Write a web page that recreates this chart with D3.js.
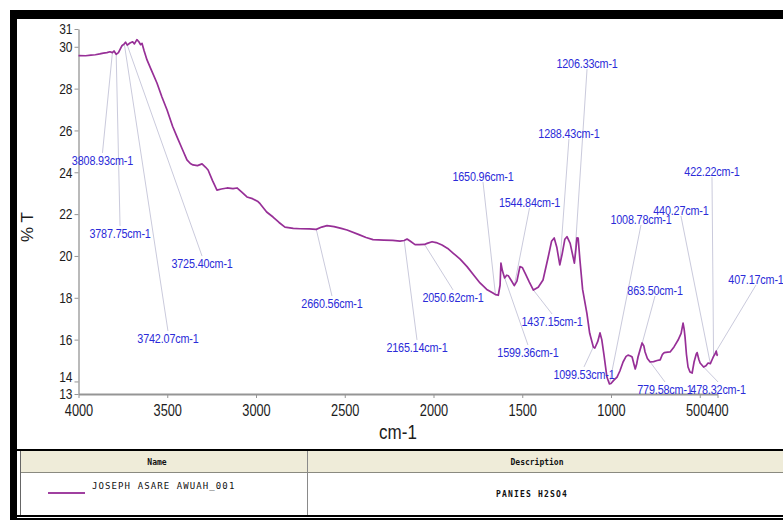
<!DOCTYPE html>
<html>
<head>
<meta charset="utf-8">
<script src="https://cdn.jsdelivr.net/npm/d3@7/dist/d3.min.js"></script>
<style>
  html, body { margin: 0; padding: 0; background: #fff; }
  svg { display: block; }
</style>
</head>
<body>
<svg id="chart" width="783" height="520"></svg>
<script>
// IR spectrum of sample JOSEPH ASARE AWUAH_001 (%T vs wavenumber)
const wavenumbers = [
  4000, 3960, 3930, 3905, 3880, 3860, 3840, 3823, 3808.93, 3800,
  3787.75, 3775, 3755, 3742.07, 3735, 3725.40, 3710, 3695, 3685, 3671,
  3660, 3650, 3642, 3630, 3614, 3590, 3558, 3530, 3501, 3470,
  3445, 3415, 3389, 3370, 3355, 3330, 3304, 3285, 3270, 3245,
  3220, 3195, 3163, 3130, 3107, 3080, 3051, 3020, 2989, 2977,
  2940, 2904, 2870, 2837, 2790, 2752, 2700, 2660.56, 2630, 2600,
  2560, 2520, 2487, 2420, 2380, 2341, 2280, 2230, 2189, 2165.14,
  2149, 2130, 2104, 2080, 2050.62, 2036, 2008, 1985, 1952, 1920,
  1890, 1850, 1811, 1775, 1738, 1700, 1665, 1650.96, 1635, 1625,
  1620, 1612, 1599.36, 1588, 1578, 1560, 1544.84, 1530, 1513, 1500,
  1484, 1460, 1437.15, 1410, 1383, 1355, 1335, 1320, 1305, 1288.43,
  1275, 1260, 1248, 1230, 1206.33, 1198, 1192, 1185, 1175, 1160,
  1136, 1120, 1099.53, 1091, 1075, 1062, 1052, 1040, 1023, 1008.78,
  1000, 985, 966, 950, 932, 915, 904, 890, 881, 870,
  863.50, 855, 848, 835, 825, 815, 808, 795, 779.58, 760,
  740, 723, 710, 700, 680, 667, 645, 622, 605, 594,
  588, 583, 575, 566, 555, 543, 532, 520, 515, 505,
  498, 478.32, 465, 453, 440.27, 430, 422.22, 414, 407.17, 402, 400
];
const transmittance = [
  29.58, 29.57, 29.60, 29.62, 29.66, 29.70, 29.72, 29.76, 29.72, 29.80,
  29.64, 29.72, 30.05, 30.14, 30.22, 30.08, 30.18, 30.24, 30.14, 30.34,
  30.24, 30.10, 30.16, 29.80, 29.37, 28.90, 28.27, 27.60, 26.98, 26.20,
  25.69, 25.10, 24.59, 24.42, 24.35, 24.32, 24.40, 24.25, 24.11, 23.60,
  23.15, 23.20, 23.25, 23.22, 23.25, 23.05, 22.82, 22.74, 22.60, 22.50,
  22.10, 21.86, 21.60, 21.38, 21.32, 21.30, 21.29, 21.27, 21.38, 21.45,
  21.40, 21.32, 21.24, 21.02, 20.88, 20.78, 20.76, 20.74, 20.71, 20.74,
  20.81, 20.70, 20.54, 20.54, 20.55, 20.60, 20.68, 20.64, 20.52, 20.36,
  20.14, 19.85, 19.49, 19.10, 18.71, 18.40, 18.23, 18.15, 18.12, 18.60,
  19.66, 19.30, 18.95, 19.08, 19.05, 18.80, 18.58, 18.80, 19.49, 19.45,
  19.18, 18.75, 18.37, 18.50, 18.85, 19.90, 20.70, 20.86, 20.40, 19.57,
  20.10, 20.80, 20.92, 20.60, 19.66, 20.30, 20.86, 20.85, 19.80, 18.40,
  17.27, 16.30, 15.65, 15.60, 15.90, 16.32, 16.00, 15.30, 14.21, 13.88,
  13.90, 14.05, 14.21, 14.50, 14.93, 15.20, 15.26, 15.22, 15.17, 14.80,
  14.60, 14.85, 15.17, 15.55, 15.84, 15.70, 15.41, 15.10, 14.93, 14.95,
  15.00, 15.03, 15.30, 15.38, 15.40, 15.41, 15.65, 15.98, 16.30, 16.79,
  16.50, 16.13, 15.30, 14.69, 14.45, 14.40, 14.93, 15.30, 15.38, 15.05,
  14.88, 14.69, 14.75, 14.88, 14.85, 15.05, 15.20, 15.31, 15.45, 15.25, 15.30
];

// Picked peaks and where each annotation sits (wavenumber, %T)
const peakWavenumbers = [3808.93, 3787.75, 3742.07, 3725.40, 2660.56, 2165.14, 2050.62,
  1650.96, 1544.84, 1288.43, 1206.33, 1437.15, 1599.36, 1099.53, 1008.78, 863.50,
  779.58, 478.32, 440.27, 422.22, 407.17];
const peakLabelWn = [3865, 3766, 3496, 3304, 2572, 2093, 1890,
  1721, 1459, 1237, 1135, 1332, 1468, 1152, 831, 752,
  696, 397, 606, 431, 183];
const peakLabelT = [24.59, 21.10, 16.08, 19.66, 17.75, 15.65, 18.04,
  23.82, 22.58, 25.88, 29.22, 16.89, 15.41, 14.36, 21.77, 18.37,
  13.64, 13.64, 22.2, 24.06, 18.9];

// Axes
const xDomain = [4000, 400];
const xTickValues = [4000, 3500, 3000, 2500, 2000, 1500, 1000, 500, 400];
const xTickLabels = ["4000", "3500", "3000", "2500", "2000", "1500", "1000", "500", "400"];
const yDomain = [13.4, 30.85];
const yTickValues = [13.4, 14, 16, 18, 20, 22, 24, 26, 28, 30, 30.85];
const yTickLabels = ["13", "14", "16", "18", "20", "22", "24", "26", "28", "30", "31"];
const xTitle = "cm-1";
const yTitle = "% T";

// Legend table
const tableHeaders = ["Name", "Description"];
const sampleName = "JOSEPH ASARE AWUAH_001";
const sampleDescription = "PANIES H2SO4";

const SANS = "'Liberation Sans',Arial,sans-serif";
const MONO = "'DejaVu Sans Mono','Liberation Mono',monospace";
const NARROW_K = 0.8;           // horizontal squeeze giving a narrow face
const LINE_COLOR = "#972f97";
const LABEL_COLOR = "#2b2bd8";
const LEADER_COLOR = "#cacadc";
const AXIS_COLOR = "#959595";

// squeeze text horizontally around its own x position
function condense(sel, k = NARROW_K) {
  sel.each(function () {
    const t = d3.select(this);
    const x0 = +t.attr("x") || 0;
    t.attr("x", 0).attr("transform", `translate(${x0},0) scale(${k},1)`);
  });
}

const svg = d3.select("#chart");
svg.append("rect").attr("width", 783).attr("height", 520).attr("fill", "#fff");

const x = d3.scaleLinear().domain(xDomain).range([78.5, 717.5]);
const y = d3.scaleLinear().domain(yDomain).range([394, 29]);
const spectrumAt = d3.scaleLinear().domain(wavenumbers).range(transmittance);

// Outer frame
svg.append("rect").attr("x", 10).attr("y", 10).attr("width", 773).attr("height", 9).attr("fill", "#000");
svg.append("rect").attr("x", 10).attr("y", 10).attr("width", 7).attr("height", 510).attr("fill", "#000");

// Y axis
const yAxis = svg.append("g")
  .attr("transform", "translate(78.5,0)")
  .call(d3.axisLeft(y).tickValues(yTickValues)
    .tickFormat((d, i) => yTickLabels[i]).tickSize(4).tickSizeOuter(0).tickPadding(2))
  .attr("font-family", SANS).attr("font-size", 15);
yAxis.select(".domain").attr("stroke", AXIS_COLOR).attr("stroke-width", 1.3);
yAxis.selectAll(".tick line").attr("stroke", AXIS_COLOR);
yAxis.selectAll(".tick text").attr("fill", "#1c1c1c");
// keep crowded y labels apart by nudging the upper one
{
  const texts = yAxis.selectAll(".tick text").nodes();
  let lastCenter = null;
  texts.forEach((t, i) => {
    const c = y(yTickValues[i]);
    let shift = 0;
    if (lastCenter !== null && lastCenter - c < 17) shift = -(17 - (lastCenter - c));
    d3.select(t).attr("y", shift);
    lastCenter = c + shift;
  });
}
condense(yAxis.selectAll(".tick text"));

// X axis
const xAxis = svg.append("g")
  .attr("transform", "translate(0,394)")
  .call(d3.axisBottom(x).tickValues(xTickValues)
    .tickFormat((d, i) => xTickLabels[i]).tickSize(4).tickSizeOuter(0).tickPadding(7))
  .attr("font-family", SANS).attr("font-size", 16);
xAxis.select(".domain").attr("stroke", AXIS_COLOR).attr("stroke-width", 2);
xAxis.selectAll(".tick line").attr("stroke", AXIS_COLOR);
xAxis.selectAll(".tick text").attr("fill", "#1c1c1c");
// crowded x labels slide left until they touch their right neighbour
{
  const texts = xAxis.selectAll(".tick text").nodes();
  const shifts = texts.map(() => 0);
  for (let i = texts.length - 2; i >= 0; i--) {
    const wCur = texts[i].getComputedTextLength() * NARROW_K;
    const wNext = texts[i + 1].getComputedTextLength() * NARROW_K;
    const curRight = x(xTickValues[i]) + wCur / 2;
    const nextLeft = x(xTickValues[i + 1]) + shifts[i + 1] - wNext / 2;
    if (curRight > nextLeft) shifts[i] = nextLeft - curRight;
  }
  texts.forEach((t, i) => d3.select(t).attr("x", shifts[i]));
}
condense(xAxis.selectAll(".tick text"));

// Axis titles
const xt = svg.append("text").attr("x", 398).attr("y", 439).attr("text-anchor", "middle")
  .attr("font-family", SANS).attr("font-size", 20).attr("fill", "#1c1c1c").text(xTitle);
condense(xt, 0.85);
svg.append("text").attr("transform", "translate(33,227) rotate(-90)").attr("text-anchor", "middle")
  .attr("font-family", SANS).attr("font-size", 17).attr("fill", "#1c1c1c").text(yTitle);

// Peak leader lines
const peaks = peakWavenumbers.map((wn, i) => {
  const px = x(wn), py = y(spectrumAt(wn));
  const lx = x(peakLabelWn[i]), ly = y(peakLabelT[i]);
  return { wn, px, py, lx, ly, above: ly < py };
});
svg.append("g").selectAll("line").data(peaks).join("line")
  .attr("x1", d => d.px).attr("y1", d => d.py)
  .attr("x2", d => d.lx).attr("y2", d => d.above ? d.ly + 6 : d.ly - 7)
  .attr("stroke", LEADER_COLOR).attr("stroke-width", 1);

// Spectrum trace
const line = d3.line().x((d, i) => x(wavenumbers[i])).y(d => y(d));
svg.append("path").datum(transmittance).attr("d", line)
  .attr("fill", "none").attr("stroke", LINE_COLOR).attr("stroke-width", 1.7)
  .attr("stroke-linejoin", "round");

// Peak labels
const peakText = svg.append("g").selectAll("text").data(peaks).join("text")
  .attr("x", d => d.lx).attr("y", d => d.ly).attr("dy", "0.35em")
  .attr("text-anchor", "middle")
  .attr("font-family", SANS).attr("font-size", 13.5).attr("letter-spacing", -0.2)
  .attr("fill", LABEL_COLOR)
  .text(d => d3.format(".2f")(d.wn) + "cm-1");
condense(peakText);

// Legend table
const table = svg.append("g");
table.append("rect").attr("x", 17).attr("y", 449).attr("width", 766).attr("height", 2).attr("fill", "#000");
table.append("rect").attr("x", 20).attr("y", 451).attr("width", 763).attr("height", 21).attr("fill", "#efecd9");
table.append("line").attr("x1", 20).attr("x2", 783).attr("y1", 472.5).attr("y2", 472.5).attr("stroke", "#8a8a80");
table.append("line").attr("x1", 20.5).attr("x2", 20.5).attr("y1", 451).attr("y2", 515).attr("stroke", "#666");
table.append("line").attr("x1", 307.5).attr("x2", 307.5).attr("y1", 451).attr("y2", 515).attr("stroke", "#8a8a8a");
table.append("rect").attr("x", 17).attr("y", 515).attr("width", 766).attr("height", 2).attr("fill", "#000");
table.append("rect").attr("x", 17).attr("y", 518).attr("width", 766).attr("height", 2).attr("fill", "#000");

table.selectAll("text.head").data(tableHeaders).join("text").attr("class", "head")
  .attr("x", (d, i) => i === 0 ? 157 : 537).attr("y", 465).attr("text-anchor", "middle")
  .attr("font-family", MONO).attr("font-size", 8).attr("font-weight", "bold").attr("fill", "#111")
  .text(d => d);
table.append("line").attr("x1", 48).attr("x2", 85).attr("y1", 493).attr("y2", 493)
  .attr("stroke", "#800080").attr("stroke-width", 1.5);
table.append("text").attr("x", 92).attr("y", 489)
  .attr("font-family", MONO).attr("font-size", 9).attr("letter-spacing", 1.1).attr("fill", "#111")
  .text(sampleName);
table.append("text").attr("x", 532).attr("y", 497).attr("text-anchor", "middle")
  .attr("font-family", MONO).attr("font-size", 8).attr("font-weight", "bold").attr("letter-spacing", 1.2).attr("fill", "#111")
  .text(sampleDescription);
</script>
</body>
</html>
